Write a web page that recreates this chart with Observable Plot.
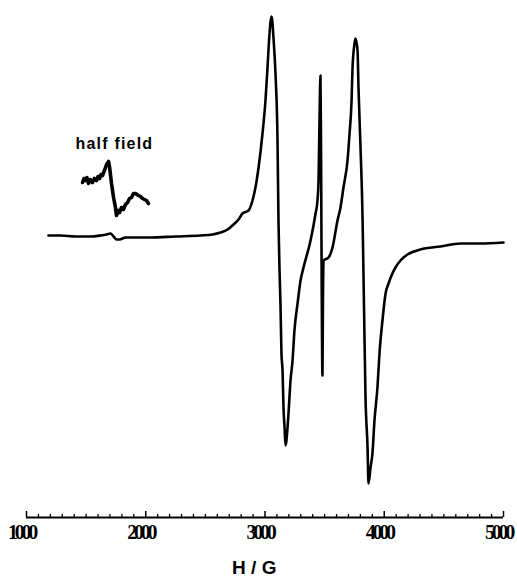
<!DOCTYPE html>
<html><head><meta charset="utf-8">
<script src="https://cdn.jsdelivr.net/npm/d3@7"></script>
<script src="https://cdn.jsdelivr.net/npm/@observablehq/plot@0.6"></script>
<style>
html,body{margin:0;padding:0;background:#fff;}
#chart svg{display:block;background:#fff;}
</style></head><body><div id="chart"></div>
<script>
// EPR spectrum: magnetic field H (G) vs. derivative intensity (arb. units)
const field = [1184,1285,1411,1537,1621,1671,1704,1730,1755,1780,1830,2040,2250,2459,2560,2627,2686,2736,2778,2811,2862,2895,2920,2946,2979,3004,3021,3034,3055,3071,3088,3105,3113,3122,3130,3138,3147,3155,3164,3172,3189,3197,3214,3231,3247,3273,3298,3323,3382,3424,3440,3449,3457,3465,3470,3474,3482,3486,3491,3533,3566,3608,3633,3658,3692,3709,3726,3734,3751,3759,3776,3784,3801,3818,3824,3832,3843,3860,3868,3885,3901,3918,3943,3960,3985,4011,4036,4061,4094,4136,4195,4304,4472,4639,4807,5000];
const intensity = [5,5,4,4,5,6,7,4,1,1,3,3,4,5,6,8,11,16,21,27,30,40,53,73,107,140,173,200,224,203,167,100,20,-30,-65,-113,-130,-167,-187,-205,-187,-173,-140,-120,-90,-63,-40,-27,0,27,40,60,120,165,90,-10,-135,-60,-20,-17,-7,20,33,53,80,107,140,173,197,202,190,153,93,23,-20,-80,-157,-207,-243,-227,-213,-180,-147,-113,-80,-53,-43,-35,-27,-20,-14,-9,-6,-3,-3,-2];

// Expanded half-field region (offset inset)
const halfField = [1470,1482,1495,1507,1520,1536,1553,1570,1587,1600,1612,1625,1637,1654,1671,1688,1696,1704,1713,1730,1746,1755,1768,1780,1797,1813,1830,1847,1864,1881,1897,1914,1939,1956,1973,1990,2006,2023];
const halfIntensity = [58,62,60,63,57,61,58,62,60,64,62,66,65,70,76,79,74,66,57,43,33,25,30,28,33,31,36,38,42,43,47,47,45,44,42,41,40,37];

const majorTicks = [1000,2000,3000,4000,5000];
const tickLabels = ["1000","2000","3000","4000","5000"];
const minorTicks = [1100,1200,1300,1400,1500,1600,1700,1800,1900,2100,2200,2300,2400,2500,2600,2700,2800,2900,3100,3200,3300,3400,3500,3600,3700,3800,3900,4100,4200,4300,4400,4500,4600,4700,4800,4900];
const xLabel = "H / G";
const insetLabel = "half field";
const insetLabelPos = {H: 1411, I: 92};
const xLabelPos = 2910;

const W = 517, H = 578, mTop = 0, mBottom = 61;
const frameH = H - mTop - mBottom;
const yDomain = [-277, 240];

const main = field.map((h, i) => ({H: h, I: intensity[i]}));
const half = halfField.map((h, i) => ({H: h, I: halfIntensity[i]}));
const ticks = majorTicks.map((t, i) => ({t, label: tickLabels[i]}));

const svg = Plot.plot({
  width: W, height: H,
  marginLeft: 26, marginRight: 14, marginTop: mTop, marginBottom: mBottom,
  x: {domain: [1000, 5000], axis: null},
  y: {domain: yDomain, axis: null},
  style: {background: "#fff", color: "#000"},
  marks: [
    Plot.ruleY([yDomain[0]], {x1: 1000, x2: 5000, stroke: "#000", strokeWidth: 2}),
    Plot.ruleX(minorTicks, {x: d => d, insetTop: frameH - 3, stroke: "#000", strokeWidth: 1.3}),
    Plot.ruleX(majorTicks, {x: d => d, insetTop: frameH - 6, stroke: "#000", strokeWidth: 1.5}),
    Plot.text(ticks, {x: "t", text: "label", frameAnchor: "bottom", dy: 21, dx: -5, lineAnchor: "bottom",
      fontFamily: "Liberation Serif", fontWeight: "bold", fontSize: 20, fill: "#000"}),
    Plot.text([xLabel], {x: xLabelPos, frameAnchor: "bottom", dy: 56, lineAnchor: "bottom",
      fontFamily: "Liberation Sans", fontWeight: "bold", fontSize: 19, fill: "#000"}),
    Plot.line(main, {x: "H", y: "I", stroke: "#000", strokeWidth: 2.6, curve: "monotone-x"}),
    Plot.line(half, {x: "H", y: "I", stroke: "#000", strokeWidth: 3.6, curve: "linear"}),
    Plot.text([insetLabel], {x: insetLabelPos.H, y: insetLabelPos.I, textAnchor: "start", lineAnchor: "bottom",
      fontFamily: "Liberation Sans", fontWeight: "bold", fontSize: 16, fill: "#000"})
  ]
});
svg.querySelectorAll("g").forEach(g => {
  const ff = g.getAttribute("font-family"), fs = g.getAttribute("font-size");
  if (ff === "Liberation Serif") g.style.letterSpacing = "-3.3px";
  else if (ff === "Liberation Sans" && fs === "16") g.style.letterSpacing = "1.2px";
});
document.getElementById("chart").appendChild(svg);
</script></body></html>
